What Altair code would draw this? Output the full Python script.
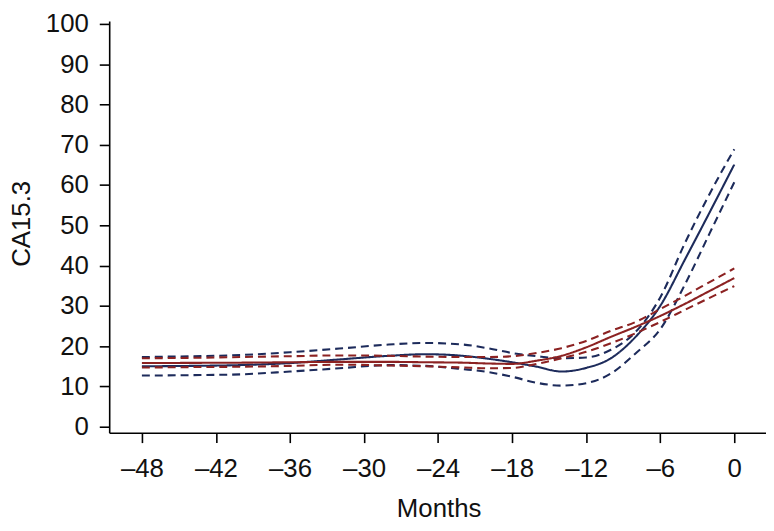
import altair as alt
import pandas as pd

months = [-48, -44, -40, -36, -32, -28, -25, -22, -20, -18, -16, -14, -12, -10, -8, -6, -4, -2, 0]

navy_mean = [15.0, 15.1, 15.3, 15.8, 16.7, 17.6, 18.0, 17.6, 16.9, 16.0, 14.9, 13.7, 14.6, 17.0, 22.3, 30.0, 41.5, 53.2, 65.1]
navy_upper = [17.3, 17.5, 17.8, 18.5, 19.4, 20.4, 20.8, 20.4, 19.5, 18.3, 17.5, 17.0, 17.2, 19.1, 23.5, 32.1, 45.6, 57.8, 68.9]
navy_lower = [12.7, 12.8, 13.0, 13.7, 14.5, 15.3, 15.1, 14.3, 13.6, 12.4, 10.9, 10.2, 10.8, 13.2, 18.2, 24.2, 35.3, 48.0, 60.7]

red_mean = [15.8, 15.85, 15.9, 16.0, 16.1, 16.1, 16.0, 15.9, 15.7, 15.6, 16.4, 17.6, 19.7, 22.3, 24.8, 27.5, 30.5, 33.7, 36.9]
red_upper = [17.0, 17.1, 17.3, 17.5, 17.7, 17.6, 17.4, 17.3, 17.3, 17.5, 18.3, 19.5, 21.3, 23.8, 26.0, 29.2, 32.5, 35.9, 39.3]
red_lower = [14.7, 14.8, 14.9, 15.1, 15.4, 15.2, 15.0, 14.7, 14.5, 14.6, 15.6, 17.0, 18.6, 20.7, 23.2, 26.0, 29.0, 32.0, 34.9]

x_ticks = [-48, -42, -36, -30, -24, -18, -12, -6, 0]
y_ticks = [0, 10, 20, 30, 40, 50, 60, 70, 80, 90, 100]

series = [
    ("navy", "lower", "dash", navy_lower),
    ("navy", "upper", "dash", navy_upper),
    ("navy", "mean", "solid", navy_mean),
    ("red", "lower", "dash", red_lower),
    ("red", "upper", "dash", red_upper),
    ("red", "mean", "solid", red_mean),
]

rows = []
for order, (grp, part, kind, vals) in enumerate(series):
    for m, v in zip(months, vals):
        rows.append({"month": m, "value": v, "group": grp, "line": f"{grp}_{part}",
                     "kind": kind, "order": order})
df = pd.DataFrame(rows)

FONT = "Liberation Sans"

chart = alt.Chart(df).mark_line(interpolate="monotone", strokeWidth=2.1, clip=True).encode(
    x=alt.X("month:Q",
            scale=alt.Scale(domain=[-50.65, 2.57], nice=False, zero=False),
            axis=alt.Axis(values=x_ticks, title="Months", grid=False,
                          labelExpr="datum.value < 0 ? '\u2013' + (-datum.value) : '' + datum.value",
                          tickSize=10, tickWidth=1.6, tickColor="black",
                          domainColor="black", domainWidth=1.6,
                          labelFont=FONT, labelFontSize=26, labelColor="#111",
                          labelPadding=13, labelBaseline="top",
                          titleFont=FONT, titleFontSize=26, titleFontWeight="normal",
                          titleColor="#111", titleBaseline="middle", titleY=76, titleX=332)),
    y=alt.Y("value:Q",
            scale=alt.Scale(domain=[-1.48, 100.74], nice=False, zero=False),
            axis=alt.Axis(values=y_ticks, title="CA15.3", grid=False,
                          tickSize=10, tickWidth=1.6, tickColor="black",
                          domainColor="black", domainWidth=1.6,
                          labelFont=FONT, labelFontSize=26, labelColor="#111",
                          labelPadding=11, labelBaseline="middle",
                          titleFont=FONT, titleFontSize=26, titleFontWeight="normal",
                          titleColor="#111", titleAngle=-90, titleBaseline="middle",
                          titleX=-88, titleY=204)),
    color=alt.Color("group:N", scale=alt.Scale(domain=["navy", "red"], range=["#1d2b5b", "#8c2222"]),
                    legend=None),
    strokeDash=alt.StrokeDash("kind:N", scale=alt.Scale(domain=["solid", "dash"], range=[[1, 0], [8, 5]]),
                              legend=None),
    detail="line:N",
    order="order:Q",
).properties(
    width=662, height=415,
    padding={"left": 102, "top": 11, "right": 0, "bottom": 89},
    autosize=alt.AutoSizeParams(type="none"),
).configure_view(stroke=None)

chart.save("out.html", embed_options={"renderer": "svg", "actions": False})
